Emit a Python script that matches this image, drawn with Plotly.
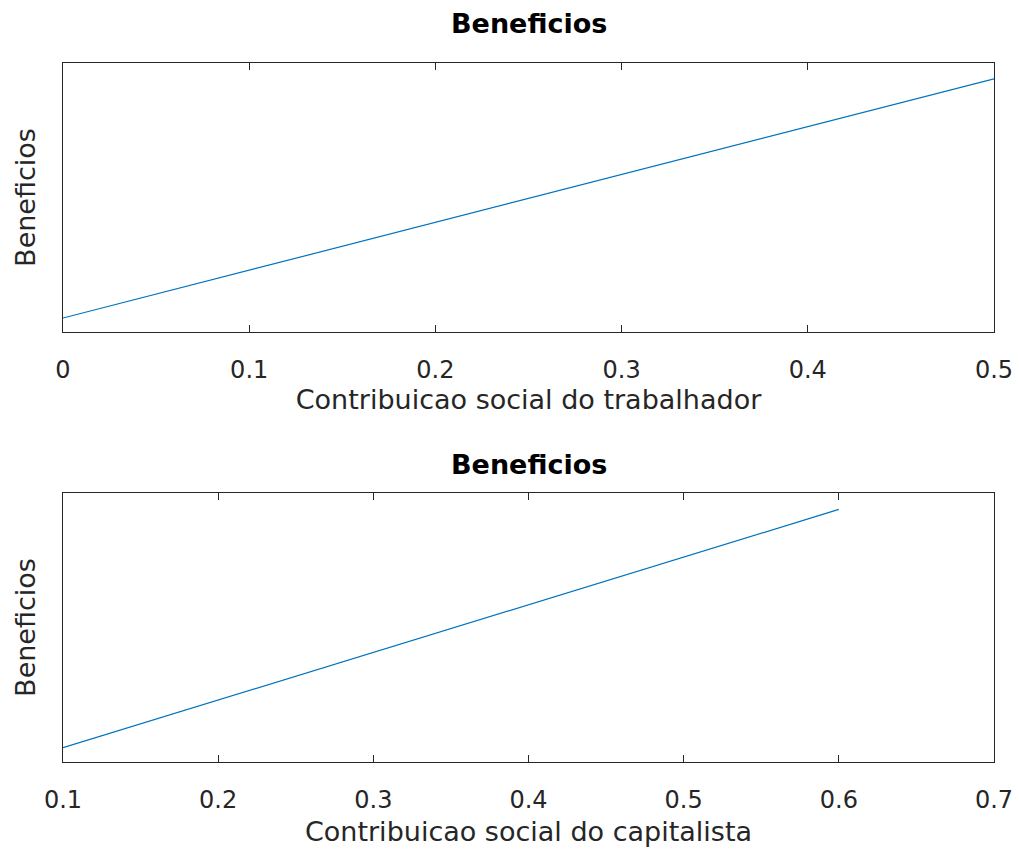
import plotly.graph_objects as go
from plotly.subplots import make_subplots

# Data (y has no tick labels; normalized units)
x_trab = [0.0, 0.1, 0.2, 0.3, 0.4, 0.5]
ben_trab = [0.052, 0.230, 0.407, 0.585, 0.763, 0.941]
x_cap = [0.1, 0.2, 0.3, 0.4, 0.5, 0.6]
ben_cap = [0.053, 0.230, 0.408, 0.585, 0.762, 0.939]

titles = ["Beneficios", "Beneficios"]
xlabels = ["Contribuicao social do trabalhador", "Contribuicao social do capitalista"]
ylabel = "Beneficios"
xtick_trab = [0, 0.1, 0.2, 0.3, 0.4, 0.5]
xtick_cap = [0.1, 0.2, 0.3, 0.4, 0.5, 0.6, 0.7]

W, H = 1019, 851
ML, MR, MT, MB = 63, 25, 63, 89
PH = H - MT - MB

FONT = "DejaVu Sans"
AX = "#262626"
LINE = "#0072BD"

fig = make_subplots(rows=2, cols=1)
fig.add_trace(go.Scatter(x=x_trab, y=ben_trab, mode="lines",
                         line=dict(color=LINE, width=1.2), showlegend=False), row=1, col=1)
fig.add_trace(go.Scatter(x=x_cap, y=ben_cap, mode="lines",
                         line=dict(color=LINE, width=1.2), showlegend=False), row=2, col=1)

def ypaper(px):
    return (PH - (px - MT)) / PH

common_x = dict(showline=True, linecolor=AX, linewidth=1, mirror="ticks",
                ticks="inside", ticklen=7, tickcolor=AX, tickwidth=1,
                showgrid=False, zeroline=False,
                tickfont=dict(family=FONT, size=24, color=AX),
                ticklabelstandoff=16, automargin=False)
common_y = dict(showline=True, linecolor=AX, linewidth=1, mirror=True,
                ticks="", showticklabels=False, showgrid=False, zeroline=False,
                range=[0, 1], automargin=False)

fig.update_layout(
    width=W, height=H,
    margin=dict(l=ML, r=MR, t=MT, b=MB),
    paper_bgcolor="white", plot_bgcolor="white",
    xaxis=dict(common_x, domain=[0, 1], range=[0, 0.5], tickvals=xtick_trab,
               ticktext=[("%g" % v) for v in xtick_trab],
               title=dict(text=xlabels[0], font=dict(family=FONT, size=27, color=AX), standoff=6)),
    xaxis2=dict(common_x, domain=[0, 1], range=[0.1, 0.7], tickvals=xtick_cap,
                ticktext=[("%g" % v) for v in xtick_cap],
                title=dict(text=xlabels[1], font=dict(family=FONT, size=27, color=AX), standoff=9)),
    yaxis=dict(common_y, domain=[ypaper(332), 1.0],
               title=dict(text=ylabel, font=dict(family=FONT, size=27, color=AX), standoff=18)),
    yaxis2=dict(common_y, domain=[0.0, ypaper(493)],
                title=dict(text=ylabel, font=dict(family=FONT, size=27, color=AX), standoff=18)),
)

for t, py in zip(titles, [23.5, 464]):
    fig.add_annotation(text="<b>%s</b>" % t, xref="paper", yref="paper",
                       x=0.5, y=ypaper(py), xanchor="center", yanchor="middle",
                       showarrow=False, font=dict(family=FONT, size=27, color="black"))

fig.write_html("out.html", config={"displayModeBar": False},
               post_script="document.body.style.margin='0';")
